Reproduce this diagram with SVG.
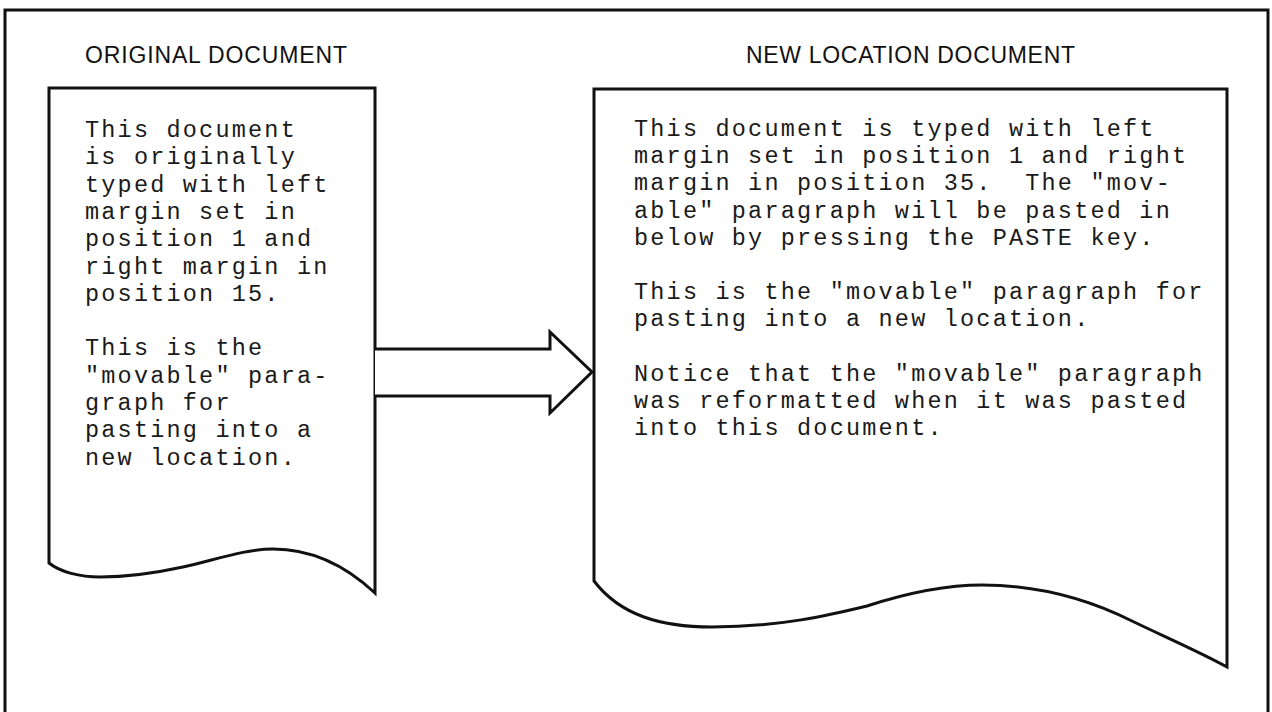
<svg xmlns="http://www.w3.org/2000/svg" width="1272" height="712" viewBox="0 0 1272 712">
  <style>
    .ln { fill: none; stroke: #111; stroke-width: 3; stroke-linejoin: miter; }
    .doc { fill: #fff; stroke: #111; stroke-width: 3; stroke-linejoin: miter; }
    .title { font-family: "Liberation Sans", Arial, sans-serif; font-size: 23px; fill: #111; }
    .typed { font-family: "Liberation Mono", "Courier New", monospace; font-size: 23.5px; letter-spacing: 2.2px; fill: #1a1a1a; white-space: pre; }
  </style>
  <rect x="0" y="0" width="1272" height="712" fill="#fff"/>
  <g id="frame">
    <path class="ln" d="M5,716 L5,10 L1268,10 L1268,716"/>
  </g>
  <g id="node-original">
    <text class="title" x="85" y="63" textLength="262" lengthAdjust="spacing">ORIGINAL DOCUMENT</text>
    <path class="doc" d="M49,88 L375,88 L375,593 C345,565 310,549 273,549 C245,549 215,560 183,567 C160,572 130,577 100,577 C80,577 60,572 49,563 Z"/>
    <text class="typed" xml:space="preserve">
      <tspan x="85" y="137">This document</tspan>
      <tspan x="85" y="164.3">is originally</tspan>
      <tspan x="85" y="191.6">typed with left</tspan>
      <tspan x="85" y="218.9">margin set in</tspan>
      <tspan x="85" y="246.2">position 1 and</tspan>
      <tspan x="85" y="273.5">right margin in</tspan>
      <tspan x="85" y="300.8">position 15.</tspan>
      <tspan x="85" y="355.4">This is the</tspan>
      <tspan x="85" y="382.7">"movable" para-</tspan>
      <tspan x="85" y="410">graph for</tspan>
      <tspan x="85" y="437.3">pasting into a</tspan>
      <tspan x="85" y="464.6">new location.</tspan>
    </text>
  </g>
  <g id="node-new">
    <text class="title" x="746" y="63" textLength="329" lengthAdjust="spacing">NEW LOCATION DOCUMENT</text>
    <path class="doc" d="M594,89 L1227,89 L1227,667 C1200,652 1165,637 1132,621 C1090,600 1040,585 982,585 C950,585 910,592 867,606 C830,615 780,627 712,627 C660,627 620,615 594,581 Z"/>
    <text class="typed" xml:space="preserve">
      <tspan x="634" y="136">This document is typed with left</tspan>
      <tspan x="634" y="163.2">margin set in position 1 and right</tspan>
      <tspan x="634" y="190.4">margin in position 35.  The "mov-</tspan>
      <tspan x="634" y="217.6">able" paragraph will be pasted in</tspan>
      <tspan x="634" y="244.8">below by pressing the PASTE key.</tspan>
      <tspan x="634" y="299.2">This is the "movable" paragraph for</tspan>
      <tspan x="634" y="326.4">pasting into a new location.</tspan>
      <tspan x="634" y="380.8">Notice that the "movable" paragraph</tspan>
      <tspan x="634" y="408">was reformatted when it was pasted</tspan>
      <tspan x="634" y="435.2">into this document.</tspan>
    </text>
  </g>
  <g id="connectors">
    <path id="arrow-paste" class="doc" d="M375,349 L550,349 L550,332 L592,372 L550,413 L550,396 L375,396"/>
  </g>
</svg>
